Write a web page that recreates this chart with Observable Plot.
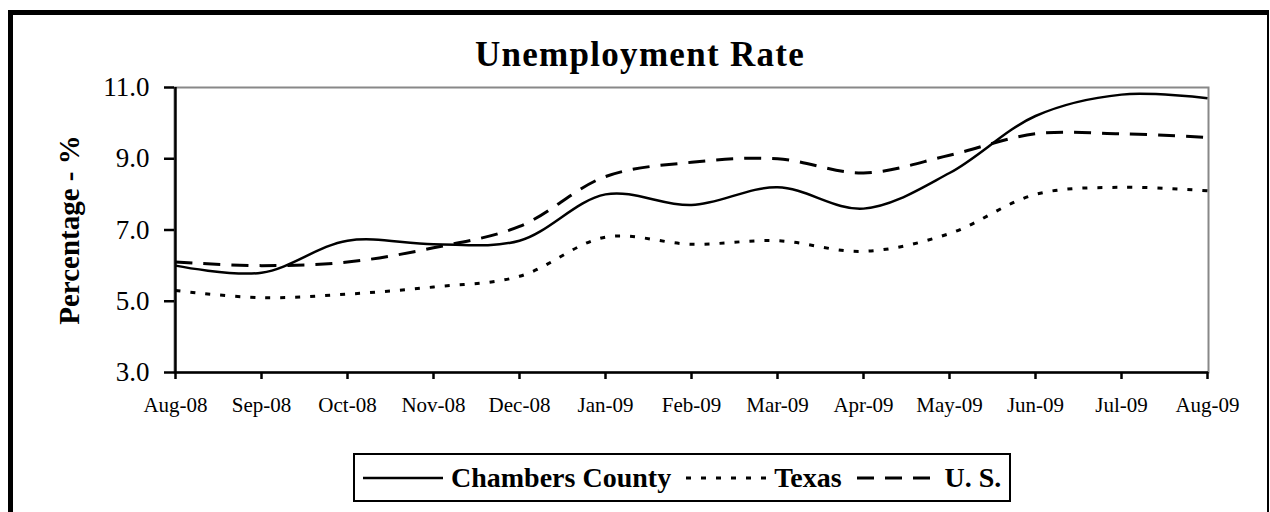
<!DOCTYPE html>
<html><head><meta charset="utf-8">
<script src="https://cdn.jsdelivr.net/npm/d3@7"></script>
<script src="https://cdn.jsdelivr.net/npm/@observablehq/plot@0.6"></script>
<style>
html,body{margin:0;padding:0;background:#fff;width:1270px;height:512px;overflow:hidden;font-family:"Liberation Serif",serif;}
#frame{position:absolute;left:8px;top:10px;width:1254px;height:600px;border-left:5px solid #000;border-top:5px solid #000;border-right:2px solid #000;}
#title{position:absolute;left:13px;width:1254px;top:38px;text-align:center;font-size:35px;line-height:34px;letter-spacing:1.3px;font-weight:bold;color:#000;}
#chart{position:absolute;left:0;top:72px;}
#legend{position:absolute;left:353px;top:453px;height:45px;border:2.5px solid #000;display:flex;align-items:center;padding:0 8px 0 8px;font-size:28px;font-weight:bold;color:#000;background:#fff;}
#legend .item{display:flex;align-items:center;}
#legend svg{margin-right:8px;}
#legend .item + .item{margin-left:15px;}
</style>
</head><body>
<div id="frame"></div>
<div id="title">Unemployment Rate</div>
<div id="chart"></div>
<div id="legend"></div>
<script>
const months = ["Aug-08","Sep-08","Oct-08","Nov-08","Dec-08","Jan-09","Feb-09","Mar-09","Apr-09","May-09","Jun-09","Jul-09","Aug-09"];
const chambers = [6.0,5.8,6.7,6.6,6.7,8.0,7.7,8.2,7.6,8.6,10.2,10.8,10.7];
const texas = [5.3,5.1,5.2,5.4,5.7,6.8,6.6,6.7,6.4,6.9,8.0,8.2,8.1];
const us = [6.1,6.0,6.1,6.5,7.1,8.5,8.9,9.0,8.6,9.1,9.7,9.7,9.6];
const yTicks = [3,5,7,9,11];
const seriesNames = ["Chambers County","Texas","U. S."];
const seriesDash = [null,"5,10","17,11"];
const yLabel = "Percentage - %";

const seriesValues = [chambers, texas, us];
const data = [];
seriesNames.forEach((name,i)=>{
  months.forEach((m,j)=>data.push({series:name, month:m, value:seriesValues[i][j]}));
});

const lineMarks = seriesNames.map((name,i)=>Plot.line(data.filter(d=>d.series===name),{
  x:"month", y:"value", stroke:"#000", strokeWidth: i===0?2.5:3,
  strokeDasharray: seriesDash[i] || undefined, curve:"catmull-rom", strokeLinecap:"butt"
}));

const plot = Plot.plot({
  width:1270, height:360,
  marginLeft:174, marginRight:62, marginTop:15, marginBottom:60,
  style:{fontFamily:"Liberation Serif, serif", color:"#000", background:"transparent", overflow:"visible"},
  x:{type:"point", domain:months, padding:0},
  y:{domain:[yTicks[0], yTicks[yTicks.length-1]]},
  marks:[
    Plot.frame({stroke:"#888", strokeWidth:2}),
    ...lineMarks,
    Plot.ruleX([months[0]],{stroke:"#000", strokeWidth:2.5}),
    Plot.ruleY([yTicks[0]],{stroke:"#000", strokeWidth:2.5}),
    Plot.axisY({ticks:yTicks, tickSize:10, tickPadding:15, tickFormat:d=>d.toFixed(1), fontSize:27, strokeWidth:2.5, label:null}),
    Plot.axisX({tickSize:7, tickPadding:18, fontSize:21, strokeWidth:2.5, label:null}),
    Plot.text([yLabel],{frameAnchor:"left", rotate:-90, dx:-105, textAnchor:"middle", lineAnchor:"middle", fontSize:29, fontWeight:"bold", fill:"#000", letterSpacing:"1px"})
  ]
});
document.getElementById("chart").appendChild(plot);

const legend = document.getElementById("legend");
seriesNames.forEach((name,i)=>{
  const item = document.createElement("div");
  item.className = "item";
  const ns = "http://www.w3.org/2000/svg";
  const svg = document.createElementNS(ns,"svg");
  svg.setAttribute("width","80"); svg.setAttribute("height","12");
  const ln = document.createElementNS(ns,"line");
  ln.setAttribute("x1","0"); ln.setAttribute("x2","80"); ln.setAttribute("y1","6"); ln.setAttribute("y2","6");
  ln.setAttribute("stroke","#000"); ln.setAttribute("stroke-width", i===0?"2.5":"3");
  if (seriesDash[i]) ln.setAttribute("stroke-dasharray", seriesDash[i]);
  svg.appendChild(ln);
  const span = document.createElement("span");
  span.textContent = name;
  item.appendChild(svg); item.appendChild(span);
  legend.appendChild(item);
});
</script>
</body></html>
